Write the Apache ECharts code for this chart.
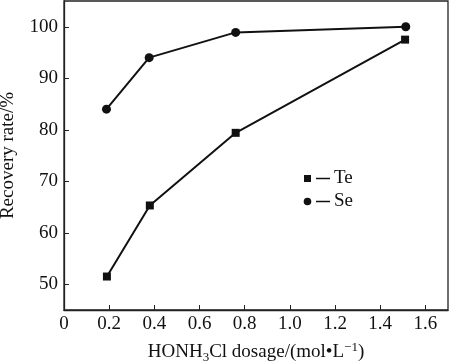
<!DOCTYPE html>
<html><head><meta charset="utf-8">
<script src="https://cdn.jsdelivr.net/npm/echarts@6/dist/echarts.min.js"></script>
<style>html,body{margin:0;padding:0;background:#fff}#c{width:450px;height:361px}</style>
</head><body><div id="c"></div>
<script>
const teX = [0.19, 0.38, 0.76, 1.51];
const teY = [51.5, 65.3, 79.4, 97.5];
const seX = [0.188, 0.377, 0.76, 1.513];
const seY = [84.0, 94.0, 98.9, 100.0];
const xTicks = [0, 0.2, 0.4, 0.6, 0.8, 1.0, 1.2, 1.4, 1.6];
const yTicks = [50, 60, 70, 80, 90, 100];
const seriesNames = ['Te', 'Se'];

const font = '"Liberation Serif","Times New Roman",serif';
const chart = echarts.init(document.getElementById('c'), null, {renderer: 'canvas'});
chart.setOption({
  backgroundColor: '#fff',
  animation: false,
  grid: {left: 64, right: 2, top: 1, bottom: 51, show: true, borderColor: '#222', borderWidth: 1.3,
         containLabel: false, outerBoundsMode: 'none'},
  xAxis: {
    type: 'value', min: 0, max: 1.7,
    nameLocation: 'middle', nameGap: 31,
    name: '{a|HONH}{sub|3}{a|Cl dosage/(mol•L}{sup|−1}{a|)}',
    nameTextStyle: {
      rich: {
        a: {fontFamily: font, fontSize: 19, color: '#111'},
        sub: {fontFamily: font, fontSize: 13, color: '#111', padding: [10, 0, 0, 0]},
        sup: {fontFamily: font, fontSize: 13, color: '#111', padding: [0, 0, 10, 0]}
      }
    },
    axisLine: {lineStyle: {color: '#222', width: 1.3}},
    axisTick: {inside: true, length: 5, lineStyle: {color: '#222'}, customValues: xTicks},
    splitLine: {show: false},
    axisLabel: {
      fontFamily: font, fontSize: 19, color: '#111', margin: 5, customValues: xTicks,
      formatter: v => (Math.abs(v) < 1e-9 ? '0' : Number(v).toFixed(1))
    }
  },
  yAxis: {
    type: 'value', min: 45, max: 105,
    name: 'Recovery rate/%', nameLocation: 'middle', nameGap: 46,
    nameTextStyle: {fontFamily: font, fontSize: 19, color: '#111'},
    axisLine: {lineStyle: {color: '#222', width: 1.3}},
    axisTick: {inside: true, length: 5, lineStyle: {color: '#222'}, customValues: yTicks},
    splitLine: {show: false},
    axisLabel: {
      fontFamily: font, fontSize: 19, color: '#111', margin: 6, customValues: yTicks,
      formatter: v => String(v)
    }
  },
  series: [
    {name: seriesNames[0], type: 'line', data: teX.map((x, i) => [x, teY[i]]),
     symbol: 'rect', symbolSize: 8, itemStyle: {color: '#111'}, lineStyle: {color: '#111', width: 2}},
    {name: seriesNames[1], type: 'line', data: seX.map((x, i) => [x, seY[i]]),
     symbol: 'circle', symbolSize: 9, itemStyle: {color: '#111'}, lineStyle: {color: '#111', width: 2}}
  ],
  graphic: [
    {type: 'rect', shape: {x: 304, y: 175, width: 7, height: 7}, style: {fill: '#111'}},
    {type: 'line', shape: {x1: 316, y1: 178.5, x2: 330, y2: 178.5}, style: {stroke: '#111', lineWidth: 1.5}},
    {type: 'text', x: 334, y: 178.5, style: {text: seriesNames[0], font: '19px ' + font, fill: '#111', verticalAlign: 'middle'}},
    {type: 'circle', shape: {cx: 307.5, cy: 201.5, r: 3.8}, style: {fill: '#111'}},
    {type: 'line', shape: {x1: 316, y1: 201.5, x2: 330, y2: 201.5}, style: {stroke: '#111', lineWidth: 1.5}},
    {type: 'text', x: 334, y: 201.5, style: {text: seriesNames[1], font: '19px ' + font, fill: '#111', verticalAlign: 'middle'}}
  ]
});
</script></body></html>
